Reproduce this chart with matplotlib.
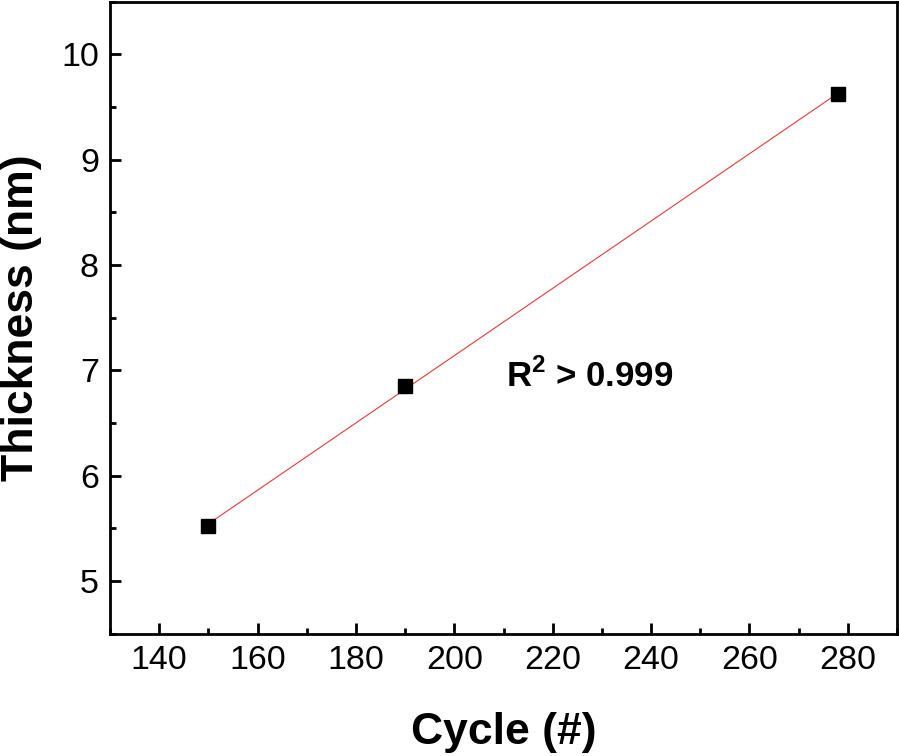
import numpy as np
import matplotlib
matplotlib.use("Agg")
import matplotlib.pyplot as plt
from matplotlib.ticker import MultipleLocator

plt.rcParams['font.family'] = ['Liberation Sans', 'DejaVu Sans']
plt.rcParams['mathtext.fontset'] = 'custom'
plt.rcParams['mathtext.rm'] = 'Liberation Sans'
plt.rcParams['mathtext.bf'] = 'Liberation Sans:bold'

# data
cycles = [150, 190, 278]
thickness = [5.52, 6.85, 9.62]

# linear fit through the points
slope, intercept = np.polyfit(cycles, thickness, 1)
fit_x = np.array([cycles[0], cycles[-1]])
fit_y = slope * fit_x + intercept

fig = plt.figure(figsize=(8.99, 7.56), dpi=100)
ax = fig.add_axes([0.1224, 0.162, 0.8754, 0.836])

ax.plot(fit_x, fit_y, color='#e8393a', linewidth=0.8, zorder=2)
ax.plot(cycles, thickness, linestyle='none', marker='s', markersize=10,
        color='black', zorder=3)

ax.text(210.5, 6.94, r'R$^{\mathbf{2}}$ > 0.999', fontsize=25,
        fontweight='bold', va='center', ha='left')

ax.set_xlim(130, 290)
ax.set_ylim(4.5, 10.5)
ax.xaxis.set_major_locator(MultipleLocator(20))
ax.xaxis.set_minor_locator(MultipleLocator(10))
ax.yaxis.set_major_locator(MultipleLocator(1))
ax.yaxis.set_minor_locator(MultipleLocator(0.5))

for s in ax.spines.values():
    s.set_linewidth(2)
ax.tick_params(which='major', direction='in', length=8, width=2,
               labelsize=24.5, pad=8, top=False, right=False)
ax.tick_params(which='minor', direction='in', length=4.5, width=2,
               top=False, right=False)

ax.set_xlabel('Cycle (#)', fontsize=32, fontweight='bold', labelpad=26)
ax.set_ylabel('Thickness (nm)', fontsize=32, fontweight='bold', labelpad=14)

fig.savefig('out.png', dpi=100)
